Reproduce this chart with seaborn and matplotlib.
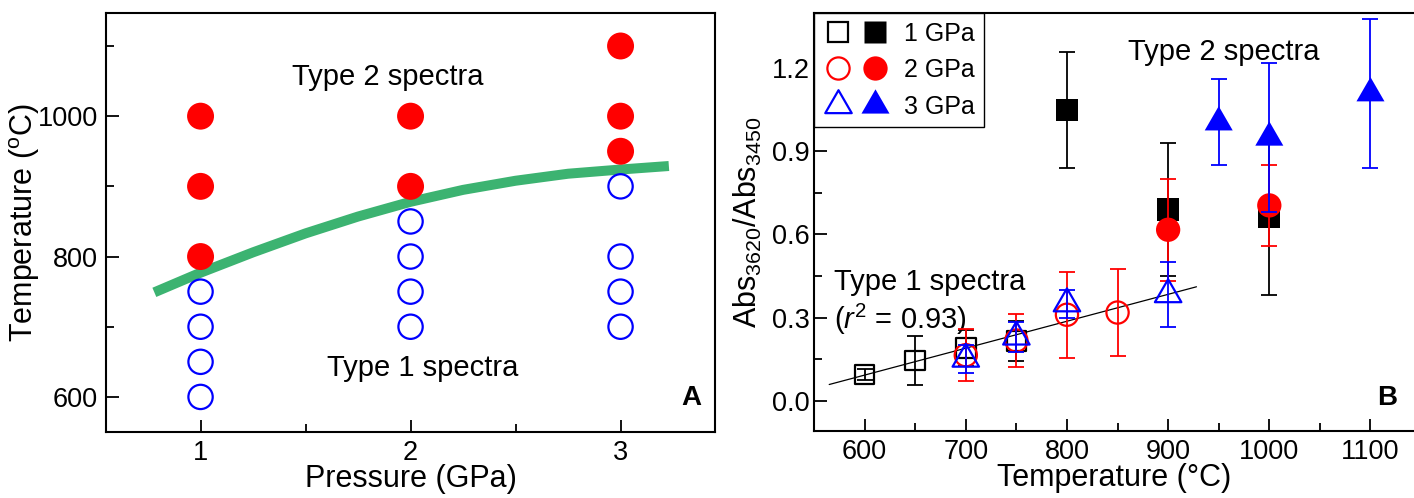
import numpy as np
import pandas as pd
import matplotlib
matplotlib.use("Agg")
import matplotlib.pyplot as plt
import seaborn as sns
from matplotlib.path import Path
from matplotlib.lines import Line2D
from matplotlib.legend_handler import HandlerTuple
from matplotlib.ticker import MultipleLocator, FormatStrFormatter

# ---------------- Panel A data ----------------
type2_pressure = [1, 1, 1, 2, 2, 3, 3, 3]
type2_temperature = [800, 900, 1000, 900, 1000, 950, 1000, 1100]
type1_pressure = [1, 1, 1, 1, 2, 2, 2, 2, 3, 3, 3, 3]
type1_temperature = [600, 650, 700, 750, 700, 750, 800, 850, 700, 750, 800, 900]
boundary_pressure = [0.78, 1.0, 1.25, 1.5, 1.75, 2.0, 2.25, 2.5, 2.75, 3.0, 3.23]
boundary_temperature = [749, 777, 806, 833, 857, 878, 895, 908, 918, 924, 929]

# ---------------- Panel B data ----------------
gpa1_open_T = [600, 650, 700, 750]
gpa1_open_ratio = [0.095, 0.145, 0.19, 0.215]
gpa1_open_err = [0.02, 0.09, 0.065, 0.072]
gpa1_fill_T = [800, 900, 1000]
gpa1_fill_ratio = [1.05, 0.69, 0.665]
gpa1_fill_err = [0.21, 0.24, 0.283]

gpa2_open_T = [700, 750, 800, 850]
gpa2_open_ratio = [0.164, 0.217, 0.31, 0.318]
gpa2_open_err = [0.094, 0.095, 0.155, 0.157]
gpa2_fill_T = [900, 1000]
gpa2_fill_ratio = [0.617, 0.705]
gpa2_fill_err = [0.184, 0.145]

gpa3_open_T = [700, 750, 800, 900]
gpa3_open_ratio = [0.15, 0.23, 0.35, 0.383]
gpa3_open_err = [0.05, 0.055, 0.05, 0.117]
gpa3_fill_T = [950, 1000, 1100]
gpa3_fill_ratio = [1.005, 0.95, 1.11]
gpa3_fill_err = [0.155, 0.27, 0.27]

fit_T = [565, 928]
fit_ratio = [0.058, 0.411]

legend_labels = ["1 GPa", "2 GPa", "3 GPa"]

# ---------------- style ----------------
sns.set_theme(style="ticks")
FONT = ["Liberation Sans", "DejaVu Sans"]
plt.rcParams["font.family"] = FONT
plt.rcParams["mathtext.fontset"] = "custom"
plt.rcParams["mathtext.rm"] = "Liberation Sans"
plt.rcParams["mathtext.it"] = "Liberation Sans:italic"
plt.rcParams["mathtext.bf"] = "Liberation Sans:bold"
plt.rcParams["axes.linewidth"] = 1.5
plt.rcParams["axes.edgecolor"] = "black"
plt.rcParams["text.color"] = "black"
plt.rcParams["axes.labelcolor"] = "black"
plt.rcParams["xtick.color"] = "black"
plt.rcParams["ytick.color"] = "black"
plt.rcParams["xtick.labelcolor"] = "black"
plt.rcParams["ytick.labelcolor"] = "black"

RED = "#ff0000"
BLUE = "#0000ff"
GREEN = "#3cb371"
TICK_FS = 19.5
LABEL_FS = 22
ANN_FS = 21

tri_path = Path([(0, 1), (-0.866, -0.5), (0.866, -0.5), (0, 1)],
                [Path.MOVETO, Path.LINETO, Path.LINETO, Path.CLOSEPOLY])

fig = plt.figure(figsize=(14.14, 4.98), dpi=100)
axA = fig.add_axes([0.0750, 0.1325, 0.4307, 0.8414])
axB = fig.add_axes([0.5757, 0.1345, 0.4250, 0.8394])


def style_axes(ax, xpad, ypad):
    ax.tick_params(which="both", direction="in", top=False, right=False,
                   colors="black", labelcolor="black", width=1.3)
    ax.tick_params(which="major", length=9)
    ax.tick_params(which="minor", length=6)
    ax.tick_params(axis="x", which="major", pad=xpad, labelsize=TICK_FS)
    ax.tick_params(axis="y", which="major", pad=ypad, labelsize=TICK_FS)
    for s in ax.spines.values():
        s.set_linewidth(1.5)
        s.set_color("black")


# ---------------- Panel A ----------------
sns.lineplot(x=boundary_pressure, y=boundary_temperature, ax=axA, sort=False,
             estimator=None, color=GREEN, linewidth=7.2, solid_capstyle="butt",
             zorder=2)
sns.scatterplot(x=type1_pressure, y=type1_temperature, ax=axA, marker="o",
                s=17.5 ** 2, color=BLUE, facecolors="none", edgecolor=BLUE,
                linewidth=1.6, zorder=3)
sns.scatterplot(x=type2_pressure, y=type2_temperature, ax=axA, marker="o",
                s=19.4 ** 2, color=RED, edgecolor="none", linewidth=0, zorder=3)
axA.set_xlim(0.55, 3.45)
axA.set_ylim(550, 1147)
axA.xaxis.set_major_locator(MultipleLocator(1))
axA.xaxis.set_minor_locator(MultipleLocator(0.5))
axA.yaxis.set_major_locator(MultipleLocator(200))
axA.yaxis.set_minor_locator(MultipleLocator(100))
style_axes(axA, 6, 6)
axA.set_xlabel("Pressure (GPa)", fontsize=LABEL_FS, labelpad=-2)
axA.set_ylabel(r"Temperature ($^{\mathrm{o}}$C)", fontsize=LABEL_FS, labelpad=-3)
axA.text(1.89, 1056, "Type 2 spectra", fontsize=ANN_FS, ha="center", va="center")
axA.text(2.06, 641, "Type 1 spectra", fontsize=ANN_FS, ha="center", va="center")
axA.text(0.977, 0.081, "A", transform=axA.transAxes, fontsize=20,
         fontweight="bold", ha="right", va="center")

# ---------------- Panel B ----------------
groups = [
    (gpa1_open_T, gpa1_open_ratio, gpa1_open_err, "black", "s", False, 14.0),
    (gpa1_fill_T, gpa1_fill_ratio, gpa1_fill_err, "black", "s", True, 16.0),
    (gpa2_open_T, gpa2_open_ratio, gpa2_open_err, RED, "o", False, 16.0),
    (gpa2_fill_T, gpa2_fill_ratio, gpa2_fill_err, RED, "o", True, 17.5),
    (gpa3_open_T, gpa3_open_ratio, gpa3_open_err, BLUE, tri_path, False, 22.0),
    (gpa3_fill_T, gpa3_fill_ratio, gpa3_fill_err, BLUE, tri_path, True, 23.3),
]

sns.lineplot(x=fit_T, y=fit_ratio, ax=axB, color="black", linewidth=0.9,
             estimator=None, sort=False, zorder=2)

z = 3
for T, r, e, col, mk, filled, size in groups:
    axB.errorbar(T, r, yerr=e, fmt="none", ecolor=col, elinewidth=1.3,
                 capsize=5.5, capthick=1.3, zorder=z)
    if filled:
        sns.scatterplot(x=T, y=r, ax=axB, marker=mk, s=size ** 2, color=col,
                        edgecolor="none", linewidth=0, zorder=z + 0.5)
    else:
        sns.scatterplot(x=T, y=r, ax=axB, marker=mk, s=size ** 2, color=col,
                        facecolors="none", edgecolor=col, linewidth=1.6,
                        zorder=z + 0.5)
    z += 1

axB.set_xlim(550, 1144)
axB.set_ylim(-0.11, 1.40)
axB.xaxis.set_major_locator(MultipleLocator(100))
axB.xaxis.set_minor_locator(MultipleLocator(50))
axB.yaxis.set_major_locator(MultipleLocator(0.3))
axB.yaxis.set_minor_locator(MultipleLocator(0.15))
axB.yaxis.set_major_formatter(FormatStrFormatter("%.1f"))
style_axes(axB, 6, 3)
axB.spines["right"].set_visible(False)
axB.set_xlabel("Temperature (°C)", fontsize=LABEL_FS, labelpad=-2)
axB.set_ylabel(r"$\mathrm{Abs}_{3620}/\mathrm{Abs}_{3450}$", fontsize=LABEL_FS,
               labelpad=6)
axB.text(955, 1.26, "Type 2 spectra", fontsize=ANN_FS, ha="center", va="center")
axB.text(570, 0.427, "Type 1 spectra", fontsize=ANN_FS, ha="left", va="center")
axB.text(570, 0.293, r"($r^2$ = 0.93)", fontsize=ANN_FS, ha="left", va="center")
axB.text(0.97, 0.079, "B", transform=axB.transAxes, fontsize=20,
         fontweight="bold", ha="right", va="center")

# legend with paired open/filled markers
sizes_open = [14.0, 16.0, 22.0]
sizes_fill = [16.0, 17.5, 23.3]
cols = ["black", RED, BLUE]
mks = ["s", "o", tri_path]
handles = []
for c, m, so, sf in zip(cols, mks, sizes_open, sizes_fill):
    h_open = Line2D([], [], linestyle="none", marker=m, markersize=so,
                    markerfacecolor="none", markeredgecolor=c, markeredgewidth=1.6)
    h_fill = Line2D([], [], linestyle="none", marker=m, markersize=sf,
                    markerfacecolor=c, markeredgecolor="none")
    handles.append((h_open, h_fill))
leg = axB.legend(handles, legend_labels, loc="upper left", bbox_to_anchor=(0, 1),
                 borderaxespad=0, handler_map={tuple: HandlerTuple(ndivide=None, pad=0.3)},
                 handlelength=2.7, handletextpad=0.55, borderpad=0.35,
                 labelspacing=0.5, fontsize=18, frameon=True, fancybox=False,
                 framealpha=1, edgecolor="black")
leg.get_frame().set_linewidth(1.0)
for t in leg.get_texts():
    t.set_color("black")

fig.savefig("out.png", dpi=100)
